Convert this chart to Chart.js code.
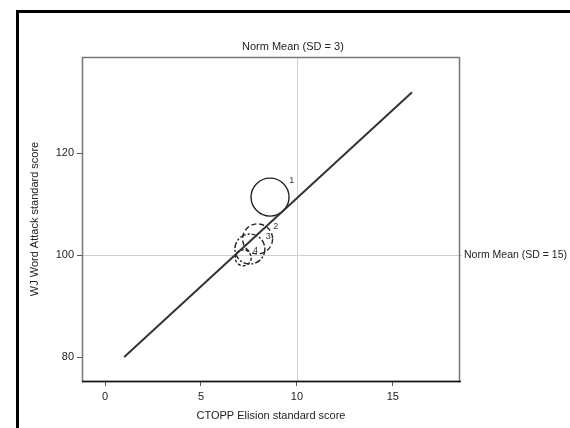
<!DOCTYPE html>
<html>
<head>
<meta charset="utf-8">
<script src="https://cdn.jsdelivr.net/npm/chart.js@4.4.1/dist/chart.umd.min.js"></script>
<style>
  html,body{margin:0;padding:0;background:#fff;}
  #wrap{position:relative;width:570px;height:428px;overflow:hidden;}
  #frame{position:absolute;left:16px;top:10px;width:600px;height:500px;border-left:3px solid #000;border-top:3px solid #000;box-sizing:border-box;}
  canvas{position:absolute;left:0;top:0;}
</style>
</head>
<body>
<div id="wrap">
  <div id="frame"></div>
  <canvas id="c" width="570" height="428"></canvas>
</div>
<script>
// ---- data ----
const groupLabels = ["1", "2", "3", "4"];
const elisionMean = [8.6, 7.95, 7.55, 7.2];
const wordAttackMean = [111.4, 103.2, 101.2, 99.5];
const bubbleRadius = [19, 15, 15, 8];
const fitX = [1, 16];
const fitY = [80, 132];
const xTicks = [0, 5, 10, 15];
const yTicks = [80, 100, 120];
const normX = 10;
const normY = 100;
const xTitle = "CTOPP Elision standard score";
const yTitle = "WJ Word Attack standard score";
const normXLabel = "Norm Mean (SD = 3)";
const normYLabel = "Norm Mean (SD = 15)";

const FONT = "'Liberation Sans', Arial, sans-serif";
const dashes = [[], [5, 3], [6, 2, 2, 2], [3, 2]];

const bubbleSets = groupLabels.map((g, i) => ({
  type: 'bubble',
  label: 'Group ' + g,
  data: [{x: elisionMean[i], y: wordAttackMean[i], r: bubbleRadius[i]}],
  backgroundColor: 'rgba(0,0,0,0)',
  borderColor: '#222',
  borderWidth: 1.4,
  hoverRadius: 0,
  dash: dashes[i],
  groupLabel: g
}));

const fitSet = {
  type: 'line',
  label: 'fit',
  data: fitX.map((x, i) => ({x: x, y: fitY[i]})),
  borderColor: '#333',
  borderWidth: 2,
  pointRadius: 0,
  fill: false,
  tension: 0
};

const dashPlugin = {
  id: 'dash',
  beforeDatasetDraw(chart, args) {
    const ds = chart.data.datasets[args.index];
    chart.ctx.setLineDash(ds.dash || []);
  },
  afterDatasetDraw(chart, args) {
    chart.ctx.setLineDash([]);
    const ds = chart.data.datasets[args.index];
    if (!ds.groupLabel) return;
    const meta = chart.getDatasetMeta(args.index);
    const pt = meta.data[0];
    const r = ds.data[0].r;
    const ctx = chart.ctx;
    ctx.save();
    ctx.fillStyle = '#333';
    ctx.font = '9px ' + FONT;
    ctx.textAlign = 'left';
    ctx.textBaseline = 'middle';
    ctx.fillText(ds.groupLabel, pt.x + r * 0.85 + 3, pt.y - r * 0.85);
    ctx.restore();
  }
};

const decorPlugin = {
  id: 'decor',
  beforeDatasetsDraw(chart) {
    const {ctx, chartArea: a, scales: {x, y}} = chart;
    ctx.save();
    ctx.strokeStyle = '#cfcfcf';
    ctx.lineWidth = 1;
    const px = Math.round(x.getPixelForValue(normX)) + 0.5;
    const py = Math.round(y.getPixelForValue(normY)) + 0.5;
    ctx.beginPath();
    ctx.moveTo(px, a.top); ctx.lineTo(px, a.bottom);
    ctx.moveTo(a.left, py); ctx.lineTo(a.right + 2, py);
    ctx.stroke();
    ctx.restore();
  },
  afterDraw(chart) {
    const {ctx, chartArea: a, scales: {x, y}} = chart;
    ctx.save();
    // plot frame
    ctx.strokeStyle = '#777';
    ctx.lineWidth = 1.5;
    ctx.strokeRect(a.left + 0.5, a.top + 0.5, a.right - a.left - 1, a.bottom - a.top);
    ctx.strokeStyle = '#111';
    ctx.beginPath();
    ctx.moveTo(a.left, a.bottom + 0.5); ctx.lineTo(a.right + 1, a.bottom + 0.5);
    ctx.stroke();
    // texts
    ctx.fillStyle = '#222';
    ctx.font = '11px ' + FONT;
    ctx.textBaseline = 'middle';
    ctx.textAlign = 'center';
    ctx.fillText(normXLabel, x.getPixelForValue(normX) - 4, a.top - 10);
    ctx.fillText(xTitle, (a.left + a.right) / 2, 416);
    ctx.save();
    ctx.font = '10.5px ' + FONT;
    ctx.textAlign = 'left';
    ctx.fillText(normYLabel, a.right + 4, y.getPixelForValue(normY));
    ctx.restore();
    ctx.translate(35, (a.top + a.bottom) / 2);
    ctx.rotate(-Math.PI / 2);
    ctx.textAlign = 'center';
    ctx.fillText(yTitle, 0, 0);
    ctx.restore();
  }
};

new Chart(document.getElementById('c'), {
  data: {datasets: [fitSet, ...bubbleSets]},
  options: {
    responsive: false,
    animation: false,
    events: [],
    layout: {padding: {left: 0, top: 57, right: 110, bottom: 0}},
    plugins: {legend: {display: false}, tooltip: {enabled: false}, title: {display: false}},
    scales: {
      x: {
        type: 'linear', min: -1.2, max: 18.5,
        afterBuildTicks(s) { s.ticks = xTicks.map(v => ({value: v})); },
        afterFit(s) { s.height = 47; },
        border: {display: false},
        grid: {display: true, drawOnChartArea: false, drawTicks: true, tickLength: 5, color: '#555'},
        ticks: {color: '#222', font: {family: FONT, size: 11}, padding: 4, maxRotation: 0,
                callback: v => String(v)}
      },
      y: {
        type: 'linear', min: 75.3, max: 138.9,
        afterBuildTicks(s) { s.ticks = yTicks.map(v => ({value: v})); },
        afterFit(s) { s.width = 82; },
        border: {display: false},
        grid: {display: true, drawOnChartArea: false, drawTicks: true, tickLength: 5, color: '#555'},
        ticks: {color: '#222', font: {family: FONT, size: 11}, padding: 3,
                callback: v => String(v)}
      }
    }
  },
  plugins: [decorPlugin, dashPlugin]
});
</script>
</body>
</html>
